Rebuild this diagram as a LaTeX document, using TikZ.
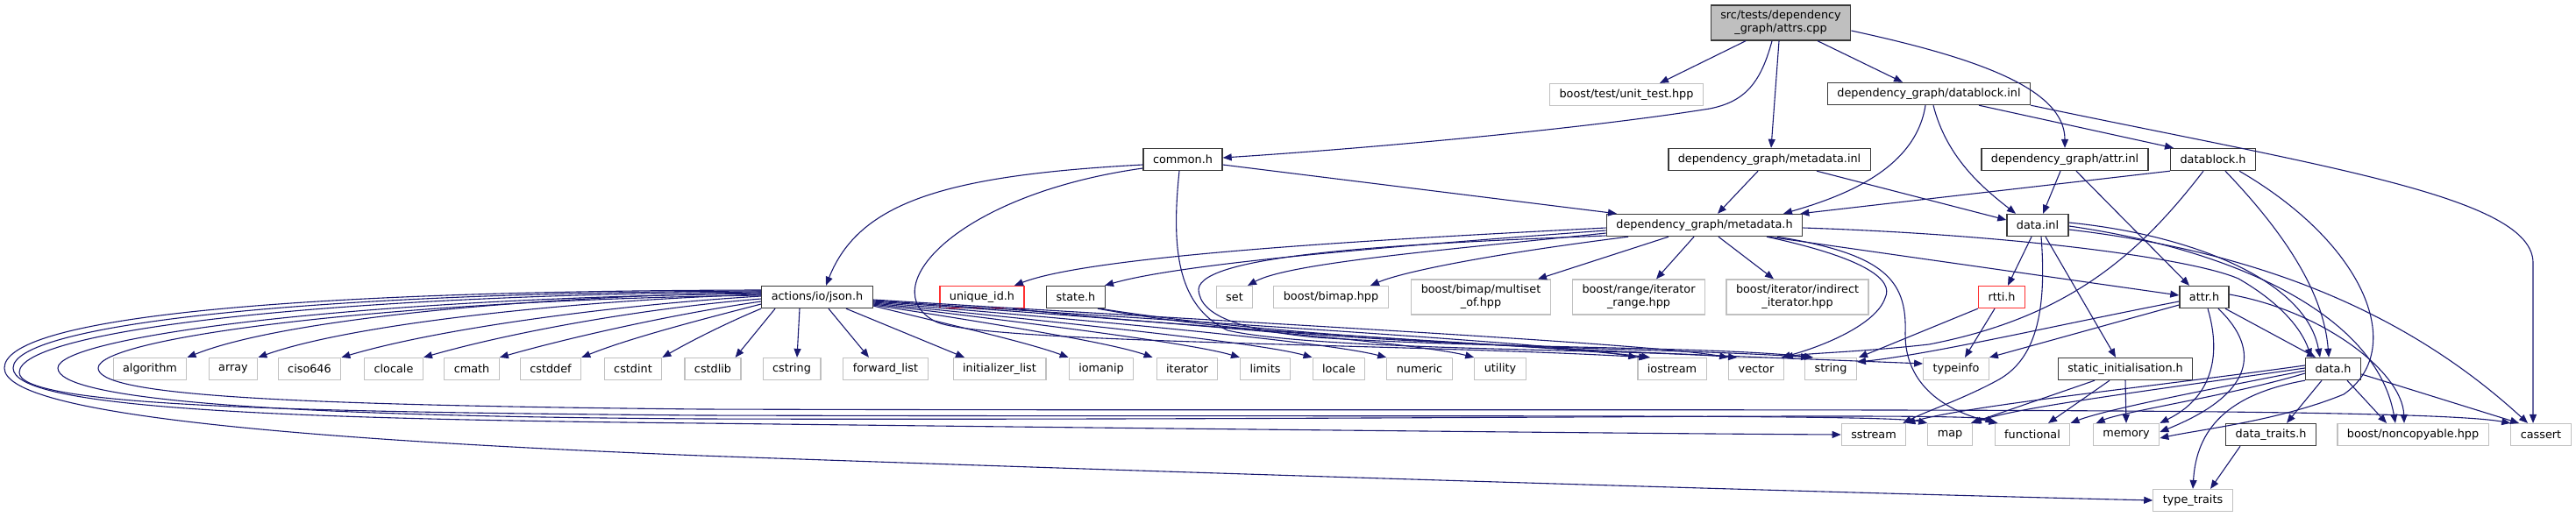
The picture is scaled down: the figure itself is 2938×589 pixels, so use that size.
\documentclass[tikz,border=0pt]{standalone}
\usepackage{fontspec}
\setmainfont{DejaVu Sans}
\usetikzlibrary{arrows.meta}
\definecolor{edgec}{HTML}{191970}
\definecolor{extc}{HTML}{C0C0C0}
\definecolor{docc}{HTML}{3A3A3A}
\definecolor{mainfill}{HTML}{BFBFBF}
\definecolor{redc}{HTML}{FF3030}
\newcommand\nodefont{\fontsize{12.8pt}{15pt}\selectfont}
\tikzset{
  box/.style={draw=docc, fill=white, line width=1.4pt, minimum height=25pt, inner xsep=11pt, inner ysep=0pt, font=\nodefont, align=center},
  extbox/.style={box, draw=extc, line width=1.2pt},
  redbox/.style={box, draw=redc},
  mainbox/.style={box, fill=mainfill, minimum height=40pt},
  twoline/.style={minimum height=40pt},
  dep/.style={draw=edgec, line width=1.1pt, -{Triangle[length=10pt,width=8pt]}},
}
\begin{document}
\begin{tikzpicture}[x=1pt,y=-1pt]
\useasboundingbox (0,0) rectangle (2938,589);
% rank 0-2
\node[mainbox] (attrs) at (2031,26) {src/tests/dependency\\\_graph/attrs.cpp};
\node[extbox] (unittest) at (1855,108) {boost/test/unit\_test.hpp};
\node[box] (dbinl) at (2200,107) {dependency\_graph/datablock.inl};
\node[box] (common) at (1349,182) {common.h};
\node[box] (mdinl) at (2018,182) {dependency\_graph/metadata.inl};
\node[box] (attrinl) at (2355,182) {dependency\_graph/attr.inl};
\node[box] (dbh) at (2524,182) {datablock.h};
\node[box] (mdh) at (1944,257) {dependency\_graph/metadata.h};
\node[box] (datainl) at (2324,257) {data.inl};
% rank 4
\node[box] (json) at (932,339) {actions/io/json.h};
\node[redbox] (uid) at (1120,339) {unique\_id.h};
\node[box] (state) at (1227,339) {state.h};
\node[extbox] (set) at (1408,339) {set};
\node[extbox] (bimap) at (1518,339) {boost/bimap.hpp};
\node[extbox,twoline] (mset) at (1689,339) {boost/bimap/multiset\\\_of.hpp};
\node[extbox,twoline] (irange) at (1869,339) {boost/range/iterator\\\_range.hpp};
\node[extbox,twoline] (indir) at (2050,339) {boost/iterator/indirect\\\_iterator.hpp};
\node[redbox] (rtti) at (2283,339) {rtti.h};
\node[box] (attrh) at (2514,339) {attr.h};
% rank 5
\node[extbox] (algorithm) at (171,421) {algorithm};
\node[extbox] (array) at (266,421) {array};
\node[extbox] (ciso) at (353,421) {ciso646};
\node[extbox] (clocale) at (449,421) {clocale};
\node[extbox] (cmath) at (538,421) {cmath};
\node[extbox] (cstddef) at (628,421) {cstddef};
\node[extbox] (cstdint) at (722,421) {cstdint};
\node[extbox] (cstdlib) at (813,421) {cstdlib};
\node[extbox] (cstring) at (903,421) {cstring};
\node[extbox] (fwdlist) at (1010,421) {forward\_list};
\node[extbox] (initlist) at (1140,421) {initializer\_list};
\node[extbox] (iomanip) at (1256,421) {iomanip};
\node[extbox] (iterator) at (1354,421) {iterator};
\node[extbox] (limits) at (1443,421) {limits};
\node[extbox] (locale) at (1527,421) {locale};
\node[extbox] (numeric) at (1619,421) {numeric};
\node[extbox] (utility) at (1711,421) {utility};
\node[extbox] (iostream) at (1907,421) {iostream};
\node[extbox] (vector) at (2003,421) {vector};
\node[extbox] (string) at (2088,421) {string};
\node[extbox] (typeinfo) at (2231,421) {typeinfo};
\node[box] (staticinit) at (2424,421) {static\_initialisation.h};
\node[box] (datah) at (2661,421) {data.h};
% rank 6-7
\node[extbox] (sstream) at (2137,496) {sstream};
\node[extbox] (map) at (2224,496) {map};
\node[extbox] (functional) at (2318,496) {functional};
\node[extbox] (memory) at (2425,496) {memory};
\node[box] (datatraits) at (2590,496) {data\_traits.h};
\node[extbox] (noncopy) at (2752,496) {boost/noncopyable.hpp};
\node[extbox] (cassert) at (2898,496) {cassert};
\node[extbox] (typetraits) at (2501,571) {type\_traits};

% attrs.cpp
\draw[dep] ([xshift=-40]attrs.south) -- ([xshift=38]unittest.north);
\draw[dep] ([xshift=-10]attrs.south) .. controls (2008,95) and (1990,116) .. (1950,124) .. controls (1800,148) and (1550,170) .. ([yshift=2]common.east);
\draw[dep] ([xshift=-2]attrs.south) -- ([xshift=2]mdinl.north);
\draw[dep] ([xshift=42]attrs.south) -- ([xshift=-30]dbinl.north);
\draw[dep] ([yshift=-9]attrs.east) .. controls (2250,65) and (2355,100) .. (attrinl.north);
% datablock.inl
\draw[dep] ([xshift=-4]dbinl.south) .. controls (2185,190) and (2110,222) .. ([xshift=90]mdh.north);
\draw[dep] ([xshift=5]dbinl.south) .. controls (2220,180) and (2262,215) .. ([xshift=-25]datainl.north);
\draw[dep] ([xshift=57]dbinl.south) -- ([xshift=-45]dbh.north);
\draw[dep] (dbinl.south east) .. controls (2650,190) and (2889,225) .. (2889,300) -- ([xshift=-9]cassert.north);
% common.h
\draw[dep] ([yshift=-6]common.west) .. controls (1080,200) and (980,230) .. ([xshift=10]json.north);
\draw[dep] ([yshift=-10]common.west) .. controls (1090,222) and (995,330) .. (1067,367) .. controls (1120,392) and (1600,392) .. ([xshift=12]iostream.north west);
\draw[dep] ([xshift=-4]common.south) .. controls (1335,290) and (1345,350) .. (1400,377) .. controls (1500,400) and (1850,398) .. ([xshift=10]vector.north west);
\draw[dep] ([yshift=-6]common.east) -- ([xshift=-100]mdh.north);
% metadata.inl
\draw[dep] ([xshift=-13]mdinl.south) -- ([xshift=15]mdh.north);
\draw[dep] ([xshift=54]mdinl.south) -- ([yshift=6]datainl.west);
% attr.inl
\draw[dep] ([xshift=-5]attrinl.south) -- ([xshift=6]datainl.north);
\draw[dep] ([xshift=13]attrinl.south) -- ([xshift=-17]attrh.north);
% datablock.h
\draw[dep] (dbh.south west) -- ([xshift=-3]mdh.north east);
\draw[dep] ([xshift=-11]dbh.south) .. controls (2440,290) and (2360,362) .. (2200,393) .. controls (2120,402) and (2060,403) .. (vector.north east);
\draw[dep] ([xshift=14]dbh.south) .. controls (2600,260) and (2650,330) .. ([xshift=-5]datah.north);
\draw[dep] ([xshift=30]dbh.south) .. controls (2700,280) and (2745,400) .. (2673,450) .. controls (2600,480) and (2510,490) .. ([yshift=-4]memory.east);
% data.inl
\draw[dep] ([xshift=-7]datainl.south) -- ([xshift=7]rtti.north);
\draw[dep] ([xshift=9]datainl.south) -- ([xshift=-11]staticinit.north);
\draw[dep] ([xshift=4]datainl.south) .. controls (2335,360) and (2320,410) .. (2280,433) .. controls (2240,455) and (2200,468) .. ([xshift=-4]sstream.north east);
\draw[dep] ([yshift=3]datainl.east) .. controls (2500,268) and (2630,320) .. ([xshift=-15]datah.north);
\draw[dep] ([yshift=-1]datainl.east) .. controls (2550,285) and (2710,360) .. ([xshift=-20]noncopy.north);
\draw[dep] ([yshift=-5]datainl.east) .. controls (2600,290) and (2760,370) .. ([xshift=-15]cassert.north);
% metadata.h
\draw[dep] ([yshift=-3]mdh.west) .. controls (1600,272) and (1250,290) .. ([xshift=37]uid.north);
\draw[dep] ([yshift=-6]mdh.west) .. controls (1600,280) and (1350,300) .. ([xshift=33]state.north);
\draw[dep] ([yshift=-9]mdh.west) .. controls (1650,285) and (1470,300) .. ([xshift=15]set.north);
\draw[dep] ([xshift=-87]mdh.south) .. controls (1700,290) and (1600,310) .. ([xshift=45]bimap.north);
\draw[dep] ([xshift=-41]mdh.south) -- ([xshift=65]mset.north);
\draw[dep] ([xshift=-12]mdh.south) -- ([xshift=20]irange.north);
\draw[dep] ([xshift=16]mdh.south) -- ([xshift=-27]indir.north);
\draw[dep] ([xshift=71]mdh.south) .. controls (2130,295) and (2160,320) .. (2150,340) .. controls (2140,370) and (2080,395) .. ([xshift=-3]vector.north east);
\draw[dep] ([xshift=83]mdh.south) .. controls (2150,290) and (2175,320) .. (2173,380) .. controls (2172,440) and (2220,470) .. ([xshift=4]functional.north west);
\draw[dep] ([yshift=-3]mdh.east) .. controls (2300,268) and (2500,295) .. (2553,318) .. controls (2600,345) and (2625,375) .. ([xshift=-25]datah.north);
\draw[dep] ([xshift=73]mdh.south) -- ([yshift=2]attrh.west);
\draw[dep] ([yshift=-12]mdh.west) .. controls (1600,278) and (1370,290) .. (1367,330) .. controls (1368,362) and (1420,377) .. (1500,385) .. controls (1700,398) and (1950,395) .. ([xshift=-20]string.north);
% json.h to the left
\draw[dep] ([yshift=5]json.west) .. controls (600,338) and (320,365) .. (algorithm.north east);
\draw[dep] ([yshift=3]json.west) .. controls (650,343) and (400,370) .. (array.north east);
\draw[dep] ([yshift=1]json.west) .. controls (700,348) and (500,375) .. (ciso.north east);
\draw[dep] ([yshift=-2]json.west) .. controls (730,352) and (580,380) .. (clocale.north east);
\draw[dep] ([yshift=-5]json.west) .. controls (770,358) and (650,385) .. (cmath.north east);
\draw[dep] ([yshift=-8]json.west) .. controls (810,362) and (720,385) .. (cstddef.north east);
\draw[dep] (json.south west) .. controls (830,368) and (790,388) .. (cstdint.north east);
\draw[dep] ([xshift=16]json.south west) -- ([xshift=-7]cstdlib.north east);
\draw[dep] ([xshift=-20]json.south) -- ([xshift=6]cstring.north);
\draw[dep] ([xshift=13]json.south) -- ([xshift=-19]fwdlist.north);
\draw[dep] ([xshift=33]json.south) -- ([xshift=-40]initlist.north);
% json.h to the right
\draw[dep] ([yshift=-10]json.east) .. controls (1080,370) and (1170,390) .. (iomanip.north west);
\draw[dep] ([yshift=-9]json.east) .. controls (1150,372) and (1270,392) .. ([xshift=-4]iterator.north west);
\draw[dep] ([yshift=-8]json.east) .. controls (1200,372) and (1360,392) .. (limits.north west);
\draw[dep] ([yshift=-7]json.east) .. controls (1250,372) and (1440,392) .. (locale.north west);
\draw[dep] ([yshift=-6]json.east) .. controls (1300,370) and (1520,392) .. (numeric.north west);
\draw[dep] ([yshift=-5]json.east) .. controls (1350,368) and (1620,392) .. (utility.north west);
\draw[dep] ([yshift=-4]json.east) .. controls (1400,370) and (1780,392) .. (iostream.north west);
\draw[dep] ([yshift=-3]json.east) .. controls (1450,370) and (1880,392) .. (vector.north west);
% json.h loops round the left
\draw[dep] ([yshift=8]json.west) .. controls (300,332) and (5,365) .. (5,420) .. controls (5,470) and (300,500) .. (800,520) .. controls (1500,545) and (2200,565) .. (typetraits.west);
\draw[dep] ([yshift=7]json.west) .. controls (330,334) and (15,372) .. (15,420) .. controls (15,465) and (300,478) .. (800,483) .. controls (1400,490) and (1900,495) .. (sstream.west);
\draw[dep] ([yshift=6]json.west) .. controls (360,337) and (22,378) .. (22,425) .. controls (22,462) and (300,470) .. (800,474) .. controls (1600,476) and (2150,472) .. (map.north west);
\draw[dep] ([yshift=4]json.west) .. controls (400,340) and (66,385) .. (66,420) .. controls (66,455) and (300,475) .. (800,478) .. controls (1600,480) and (2250,470) .. (functional.north west);
\draw[dep] ([yshift=2]json.west) .. controls (450,342) and (112,385) .. (112,420) .. controls (112,450) and (300,462) .. (800,467) .. controls (1800,470) and (2750,462) .. (cassert.north west);
% unique_id.h, state.h
\draw[dep] ([xshift=35]uid.south) .. controls (1400,380) and (1750,392) .. ([xshift=-25]iostream.north);
\draw[dep] ([xshift=25]state.south) .. controls (1500,398) and (1900,396) .. ([xshift=-24]string.north);
\draw[dep] ([xshift=28]state.south) .. controls (1500,392) and (1950,405) .. ([yshift=6]typeinfo.west);
% rtti.h
\draw[dep] (rtti.south west) -- ([xshift=2]string.north east);
\draw[dep] ([xshift=-8]rtti.south) -- ([xshift=10]typeinfo.north);
% attr.h
\draw[dep] ([yshift=-5]attrh.west) .. controls (2350,370) and (2200,405) .. ([yshift=8]string.east);
\draw[dep] ([yshift=-9]attrh.west) -- (typeinfo.north east);
\draw[dep] ([xshift=24]attrh.south) -- ([xshift=-20]datah.north);
\draw[dep] ([xshift=4]attrh.south) .. controls (2535,410) and (2520,455) .. (memory.north east);
\draw[dep] ([xshift=16]attrh.south) .. controls (2580,400) and (2570,450) .. ([yshift=3]memory.east);
\draw[dep] ([yshift=3]attrh.east) .. controls (2650,355) and (2740,425) .. ([xshift=-10]noncopy.north);
% data.h
\draw[dep] ([yshift=4]datah.west) .. controls (2450,442) and (2250,462) .. (sstream.north east);
\draw[dep] ([yshift=1]datah.west) .. controls (2450,446) and (2300,465) .. (map.north east);
\draw[dep] ([yshift=-2]datah.west) .. controls (2500,448) and (2400,468) .. (functional.north east);
\draw[dep] ([yshift=-5]datah.west) .. controls (2550,450) and (2420,470) .. ([xshift=4]memory.north west);
\draw[dep] (datah.south west) .. controls (2540,450) and (2505,490) .. (typetraits.north);
\draw[dep] ([xshift=-13]datah.south) -- ([xshift=18]datatraits.north);
\draw[dep] ([xshift=16]datah.south) -- ([xshift=-30]noncopy.north);
\draw[dep] ([yshift=-6]datah.east) -- ([xshift=-25]cassert.north);
% data_traits.h
\draw[dep] ([xshift=-35]datatraits.south) -- ([xshift=20]typetraits.north);
% static_initialisation.h
\draw[dep] ([xshift=-35]staticinit.south) -- ([xshift=-2]map.north east);
\draw[dep] ([xshift=-18]staticinit.south) -- ([xshift=18]functional.north);
\draw[dep] (staticinit.south) -- (memory.north);
\end{tikzpicture}
\end{document}
